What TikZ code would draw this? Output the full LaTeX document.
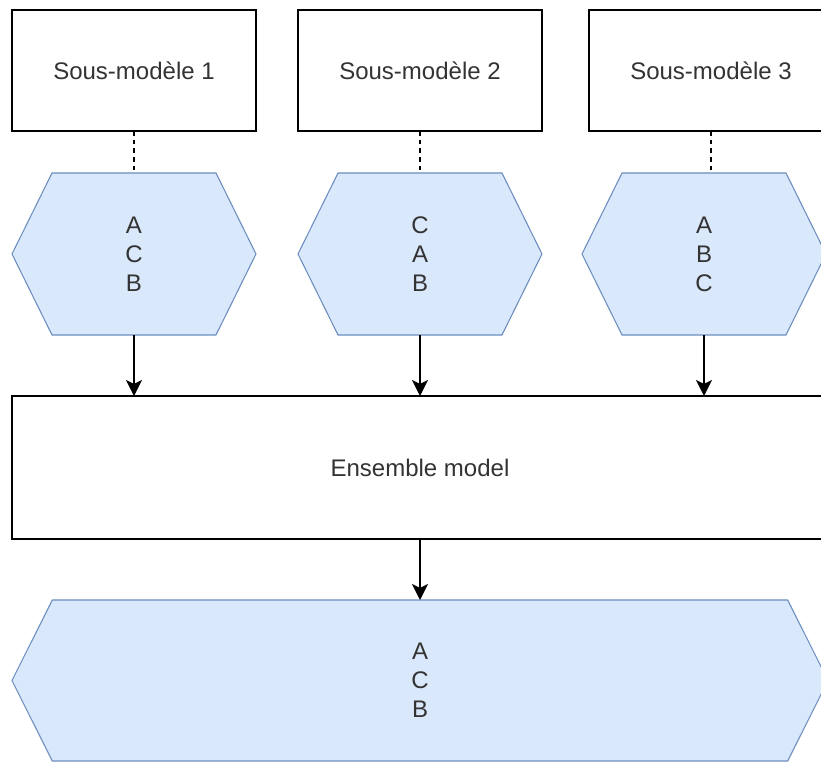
\documentclass[tikz,border=0pt]{standalone}
\usepackage{fontspec}
\setmainfont{Liberation Sans}
\usetikzlibrary{arrows.meta,shapes.symbols}

\definecolor{hexfill}{HTML}{DAE8FC}
\definecolor{hexline}{HTML}{6C8EBF}
\definecolor{txt}{HTML}{333333}

\tikzset{
  modelbox/.style = {draw = black, line width = 1.1pt, fill = white,
                     text = txt, outer sep = 0pt,
                     minimum width = 183pt, minimum height = 90.75pt},
  hexa/.style = {shape = signal, signal to = west and east,
                 signal pointer angle = 127.4,
                 draw = hexline, line width = 0.8pt, fill = hexfill,
                 text = txt, align = center, outer sep = 0pt,
                 minimum width = 183pt, minimum height = 121.5pt},
  arr/.style = {draw = black, line width = 1.1pt,
                -{Stealth[length = 12pt, width = 12pt, inset = 3pt]}},
  link/.style = {draw = black, line width = 0.8pt, dash pattern = on 3.5pt off 3pt}
}

\begin{document}
\begin{tikzpicture}[x = 0.75pt, y = -0.75pt,
  every node/.style = {font = \fontsize{18}{21.8}\selectfont}]

\useasboundingbox (0,0) rectangle (821,762);

% sub-models
\node[modelbox] (B1) at (134,70.5) {Sous-modèle 1};
\node[modelbox] (B2) at (420,70.5) {Sous-modèle 2};
\node[modelbox] (B3) at (711,70.5) {Sous-modèle 3};

% their rankings
\node[hexa] (H1) at (134,254) {A\\C\\B};
\node[hexa] (H2) at (420,254) {C\\A\\B};
\node[hexa] (H3) at (704,254) {A\\B\\C};

% combination
\node[modelbox, minimum width = 612pt, minimum height = 107.25pt]
  (E) at (420,467.5) {Ensemble model};
\node[hexa, minimum width = 612pt, minimum height = 120.75pt, signal pointer angle = 126.8]
  (R) at (420,680.5) {A\\C\\B};

\draw[link] (B1.south) -- (H1.north);
\draw[link] (B2.south) -- (H2.north);
\draw[link] (B3.south) -- (B3.south |- H3.north);

\draw[arr] (H1.south) -- (H1.south |- E.north);
\draw[arr] (H2.south) -- (H2.south |- E.north);
\draw[arr] (H3.south) -- (H3.south |- E.north);
\draw[arr] (E.south) -- (R.north);

\end{tikzpicture}
\end{document}
